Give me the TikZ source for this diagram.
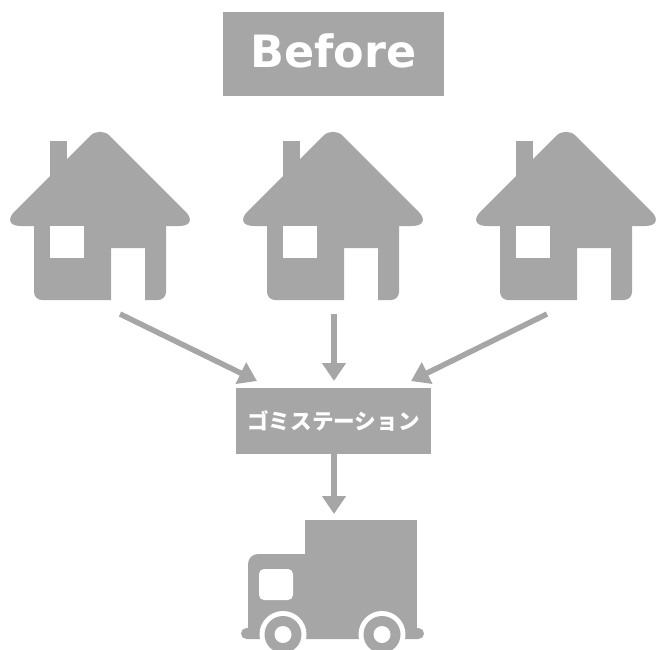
\documentclass[tikz,border=0pt]{standalone}
\usepackage{fontspec}
\setmainfont{DejaVu Sans}
\newfontfamily\jpfont{Noto Sans CJK JP}
\usetikzlibrary{arrows.meta}
\definecolor{grigio}{HTML}{A6A6A6}
\tikzset{
    etichetta/.style = {fill = grigio, text = white, inner sep = 0pt},
    freccia/.style = {draw = grigio, line width = 5.5pt, -{Triangle[length = 18pt, width = 23pt]}},
    casa/.pic = {
        % Tetto
        \fill[grigio] (100,226) [rounded corners = 21pt] -- (0,226) [rounded corners = 14pt] -- (100,126)
            [rounded corners = 21pt] -- (200,226) [sharp corners] -- cycle;
        \fill[grigio] (50,141) rectangle (67,176);
        % Muri
        \fill[grigio] (111,248) -- (111,300) [rounded corners = 8pt] -- (34,300) -- (34,215)
            [sharp corners] -- (166,215) [rounded corners = 8pt] -- (166,300)
            [sharp corners] -- (145,300) -- (145,248) -- cycle;
        \fill[white] (50,226) rectangle (84,258);
    }
}

\begin{document}
\begin{tikzpicture}[x = 1pt, y = -1pt]
    \useasboundingbox (0,0) rectangle (659,649);
    \clip (0,0) rectangle (659,649);
    % Titolo
    \node[etichetta, minimum width = 221pt, minimum height = 84pt, font = \fontsize{44.5}{44.5}\selectfont\bfseries] (before) at (333.5,54) {\raisebox{6pt}{Before}};
    % Case
    \foreach \dx in {0,233,466}
        \pic at (\dx,0) {casa};
    % Stazione
    \node[etichetta, minimum width = 195pt, minimum height = 66pt, font = \fontsize{21.6}{21.6}\selectfont\jpfont\bfseries] (stazione) at (333.5,421) {ゴミステーション};
    % Frecce
    \coordinate (casaA) at (120,314);
    \coordinate (casaB) at (334,314);
    \coordinate (casaC) at (547,314);
    \coordinate (arrivoA) at (257,381);
    \coordinate (arrivoB) at (334,381);
    \coordinate (arrivoC) at (411,381);
    \coordinate (camion) at (334,514);
    \draw[freccia] (casaA) -- (arrivoA);
    \draw[freccia] (casaB) -- (arrivoB);
    \draw[freccia] (casaC) -- (arrivoC);
    \draw[freccia] (stazione.south -| camion) -- (camion);
    % Camion
    \fill[grigio] (305,520) rectangle (417,630);
    \fill[grigio] (305,554) [rounded corners = 10pt] -- (248,554) [sharp corners] -- (248,630) -- (305,630) -- cycle;
    \fill[grigio, rounded corners = 5.5pt] (241,628) rectangle (424,639);
    \fill[white, rounded corners = 5pt] (259,569) rectangle (293,600);
    \foreach \cx in {283,382} {
        \fill[white] (\cx,634.5) circle (23.5pt);
        \fill[grigio] (\cx,634.5) circle (18.5pt);
        \fill[white] (\cx,634.5) circle (8.5pt);
    }
\end{tikzpicture}
\end{document}
